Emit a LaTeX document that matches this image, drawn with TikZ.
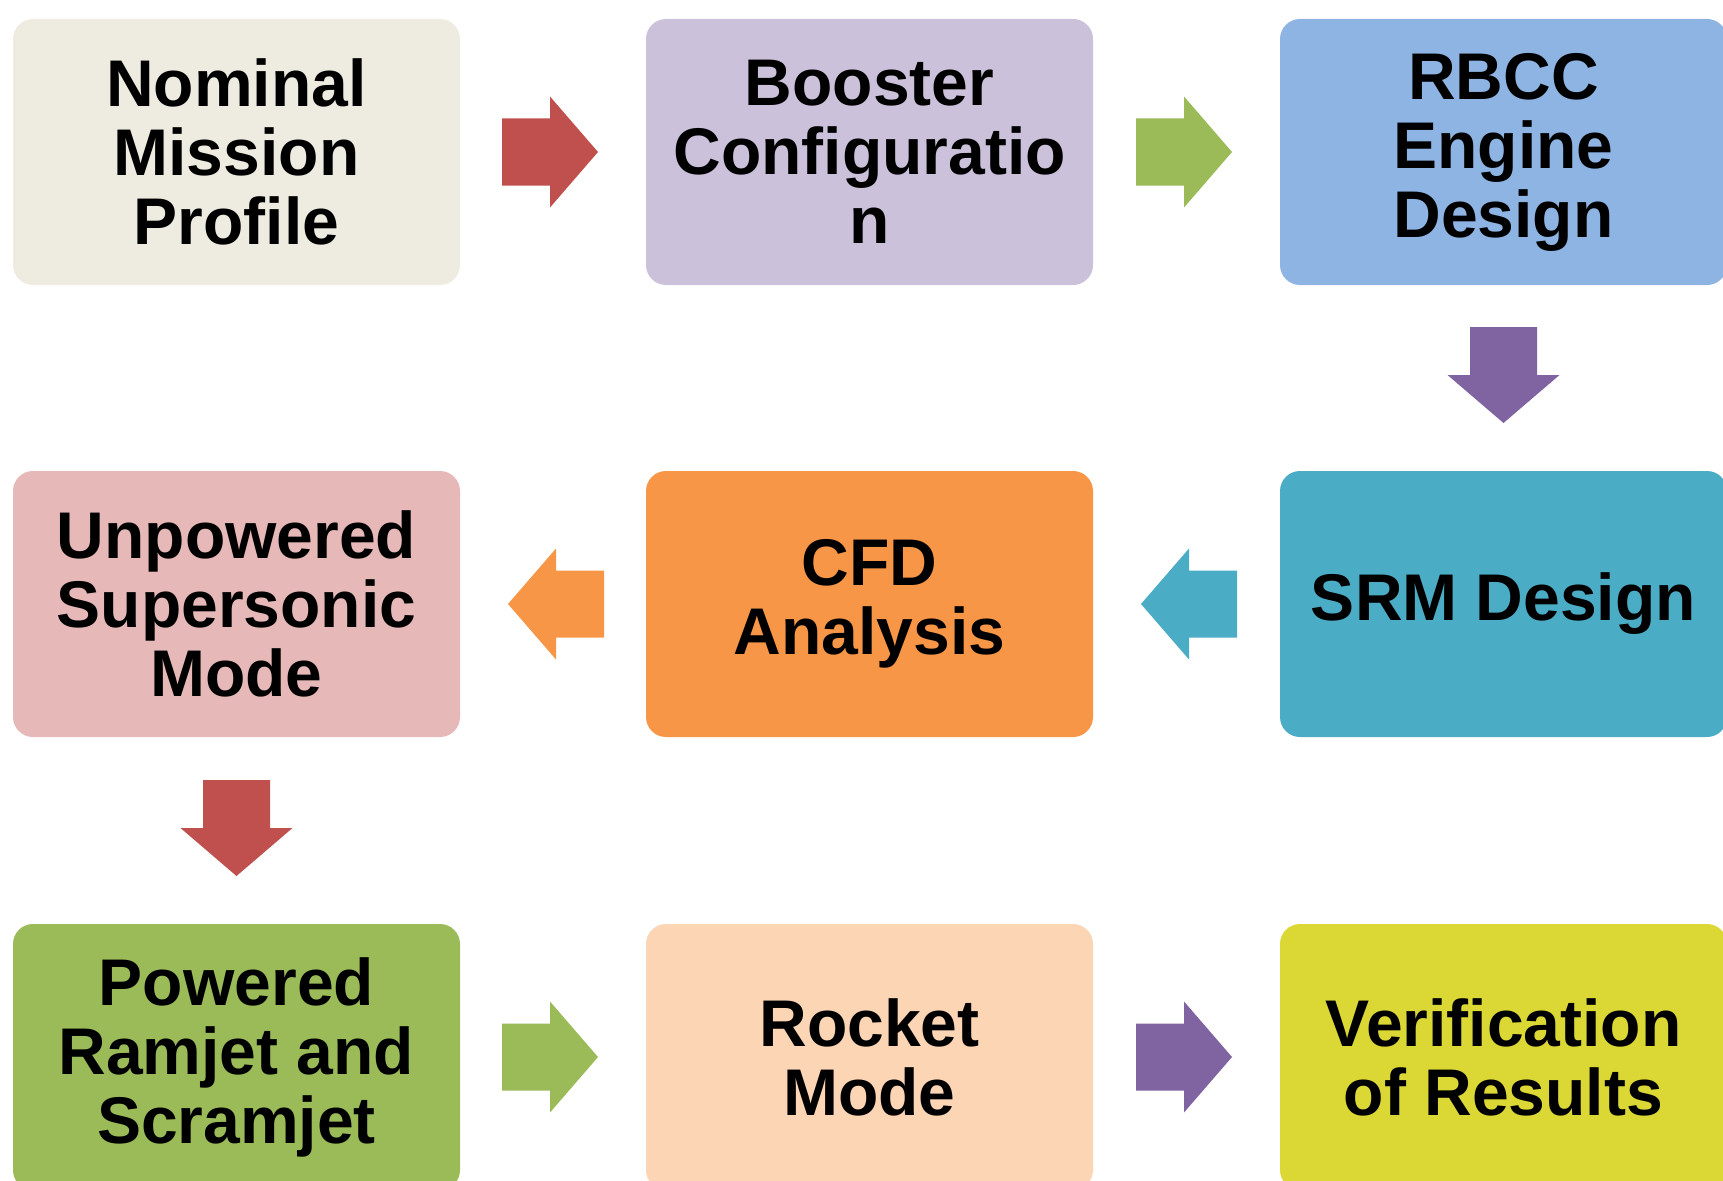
\documentclass[tikz,border=0pt]{standalone}
\usepackage{fontspec}
\setmainfont{Liberation Sans}
\definecolor{cNom}{HTML}{EEECE1}
\definecolor{cBoo}{HTML}{CCC1DA}
\definecolor{cRbc}{HTML}{8EB4E3}
\definecolor{cSrm}{HTML}{4BACC6}
\definecolor{cCfd}{HTML}{F79646}
\definecolor{cUnp}{HTML}{E6B9B8}
\definecolor{cPow}{HTML}{9BBB59}
\definecolor{cRoc}{HTML}{FCD5B5}
\definecolor{cVer}{HTML}{DBD836}
\definecolor{aRed}{HTML}{C0504D}
\definecolor{aGreen}{HTML}{9BBB59}
\definecolor{aPurple}{HTML}{8064A2}
\definecolor{aOrange}{HTML}{F79646}
\definecolor{aTeal}{HTML}{4BACC6}
\newcommand{\blkRight}[3]{\fill[#3] (#1,#2) ++(0,-33.5) -- ++(48,0) -- ++(0,-22) -- ++(48,55.5) -- ++(-48,55.5) -- ++(0,-22) -- ++(-48,0) -- cycle;}
\newcommand{\blkLeft}[3]{\fill[#3] (#1,#2) ++(0,-33.5) -- ++(-48,0) -- ++(0,-22) -- ++(-48,55.5) -- ++(48,55.5) -- ++(0,-22) -- ++(48,0) -- cycle;}
\newcommand{\blkDown}[3]{\fill[#3] (#1,#2) ++(-33.5,0) -- ++(0,48) -- ++(-22.5,0) -- ++(56,48) -- ++(56,-48) -- ++(-22.5,0) -- ++(0,-48) -- cycle;}
\begin{document}
\begin{tikzpicture}[x=1pt,y=-1pt,
  stagebox/.style={rounded corners=20pt, minimum width=447pt, minimum height=266pt,
    inner sep=0pt, align=center, text=black,
    font=\bfseries\fontsize{66}{69}\selectfont}]
\clip (0,0) rectangle (1723,1180);
\fill[white] (0,0) rectangle (1723,1180);
% boxes
\node[stagebox, fill=cNom] (nom) at (236.5,152) {Nominal\\Mission\\Profile};
\node[stagebox, fill=cBoo] (boo) at (869.5,152) {Booster\\Configuratio\\n};
\node[stagebox, fill=cRbc] (rbc) at (1503.5,152) {RBCC\\Engine\\Design};
\node[stagebox, fill=cUnp] (unp) at (236.5,604) {Unpowered\\Supersonic\\Mode};
\node[stagebox, fill=cCfd] (cfd) at (869.5,604) {CFD\\Analysis};
\node[stagebox, fill=cSrm] (srm) at (1503.5,604) {SRM Design};
\node[stagebox, fill=cPow] (pow) at (236.5,1057) {Powered\\Ramjet and\\Scramjet};
\node[stagebox, fill=cRoc] (roc) at (869.5,1057) {Rocket\\Mode};
\node[stagebox, fill=cVer] (ver) at (1503.5,1057) {Verification\\of Results};
% block arrows
\blkRight{502}{152}{aRed}
\blkRight{1136}{152}{aGreen}
\blkDown{1503.5}{327}{aPurple}
\blkLeft{1237}{604}{aTeal}
\blkLeft{604}{604}{aOrange}
\blkDown{236.5}{780}{aRed}
\blkRight{502}{1057}{aGreen}
\blkRight{1136}{1057}{aPurple}
\end{tikzpicture}
\end{document}
